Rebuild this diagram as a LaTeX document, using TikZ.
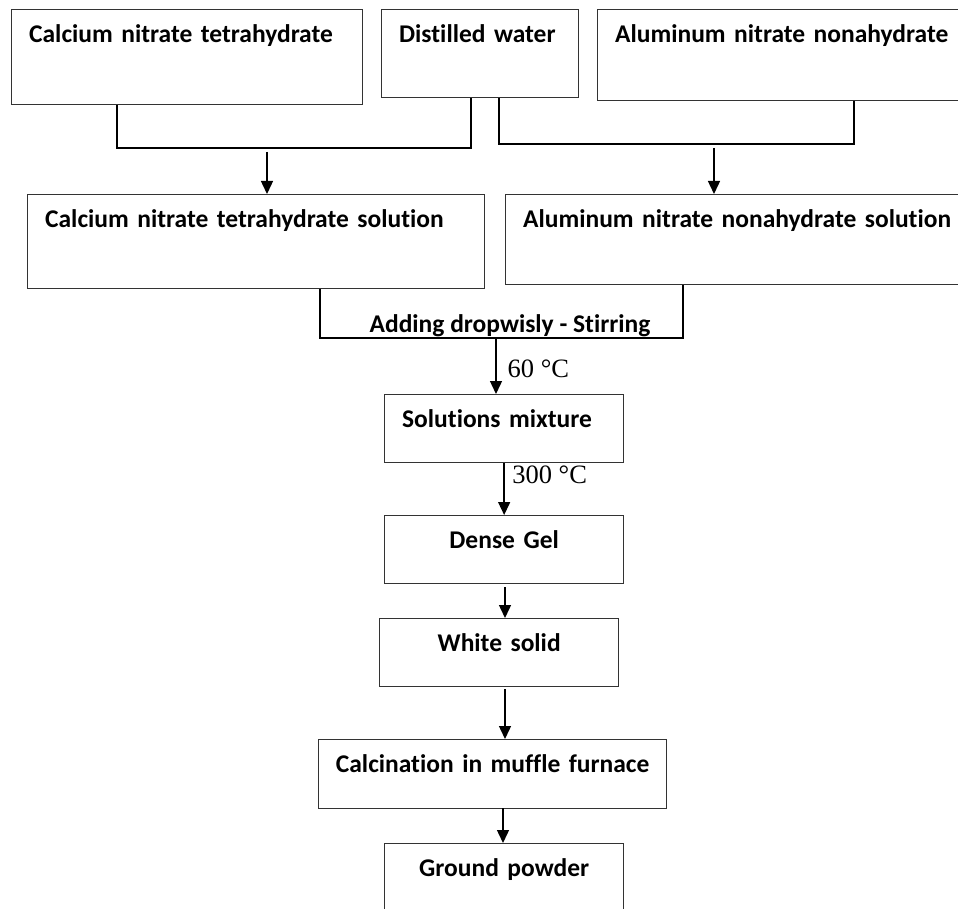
\documentclass[tikz,border=0pt]{standalone}
\usepackage{fontspec}
\setmainfont{Carlito}[Ligatures=NoCommon]
\newfontfamily\tempfont{Liberation Serif}
\usetikzlibrary{arrows.meta}

\tikzset{
    stepbox/.style={draw=black!80, line width=1.3pt, anchor=north west, inner xsep=17.5pt, inner ysep=0pt,
        text height=33pt, font=\fontsize{25.5}{30}\selectfont\bfseries},
    bracket/.style={line width=1.4pt},
    flow/.style={line width=1.4pt, -{Triangle[length=13pt,width=12pt]}},
    temp/.style={anchor=base west, inner sep=0pt, font=\tempfont\fontsize{26.5}{30}\selectfont},
}

\begin{document}
\begin{tikzpicture}[x=1pt, y=-1pt]
    \useasboundingbox (0,0) rectangle (958,909);
    \node[stepbox, align=left, text width=316pt, text depth=62pt] (Ca) at (11,9) {Calcium nitrate tetrahydrate};
    \node[stepbox, align=left, text width=162pt, text depth=55pt] (W) at (381,9) {Distilled water};
    \node[stepbox, align=left, text width=343pt, text depth=58pt] (Al) at (597,9) {Aluminum nitrate nonahydrate};
    \node[stepbox, align=left, text width=422pt, text depth=61pt] (CaS) at (27,194) {Calcium nitrate tetrahydrate solution};
    \node[stepbox, align=left, text width=435pt, text depth=57pt] (AlS) at (505,194) {Aluminum nitrate nonahydrate solution};
    \node[stepbox, align=left, text width=204pt, text depth=35pt] (Mix) at (384,394) {Solutions mixture};
    \node[stepbox, align=center, text width=204pt, text depth=35pt] (Gel) at (384,515) {Dense Gel};
    \node[stepbox, align=center, text width=204pt, text depth=35pt] (Wh) at (379,618) {White solid};
    \node[stepbox, align=center, inner xsep=6pt, text width=336pt, text depth=36pt] (Calc) at (318,739) {Calcination in muffle furnace};
    \node[stepbox, align=center, text width=204pt, text depth=35pt] (Gr) at (384,843) {Ground powder};

    \coordinate (tL) at (117,148);
    \coordinate (tR) at (471,148);
    \coordinate (tM) at (267,152);
    \coordinate (uL) at (499,144);
    \coordinate (uR) at (854,144);
    \coordinate (uM) at (714,148);
    \coordinate (bL) at (320,338);
    \coordinate (bR) at (683,338);
    \coordinate (bM) at (496,338);
    \coordinate (a3) at (505,587);
    \coordinate (a4) at (505,689);
    \coordinate (a5) at (503,808);

    \draw[bracket] (tL |- Ca.south) -- (tL) -- (tR) -- (tR |- W.south);
    \draw[bracket] (uL |- W.south) -- (uL) -- (uR) -- (uR |- Al.south);
    \draw[flow] (tM) -- (tM |- CaS.north);
    \draw[flow] (uM) -- (uM |- AlS.north);
    \draw[bracket] (bL |- CaS.south) -- (bL) -- node[anchor=base, inner sep=0pt, xshift=8.5pt, yshift=6pt,
        font=\fontsize{25.5}{30}\selectfont\bfseries] (Stir) {Adding dropwisly - Stirring} (bR) -- (bR |- AlS.south);
    \draw[flow] (bM) -- node[temp, pos=0.71, xshift=11pt] {60 °C} (bM |- Mix.north);
    \draw[flow] (Mix.south) -- node[temp, pos=0.4, xshift=7.5pt] {300 °C} (Gel.north);
    \draw[flow] (a3) -- (a3 |- Wh.north);
    \draw[flow] (a4) -- (a4 |- Calc.north);
    \draw[flow] (a5) -- (a5 |- Gr.north);
\end{tikzpicture}
\end{document}
